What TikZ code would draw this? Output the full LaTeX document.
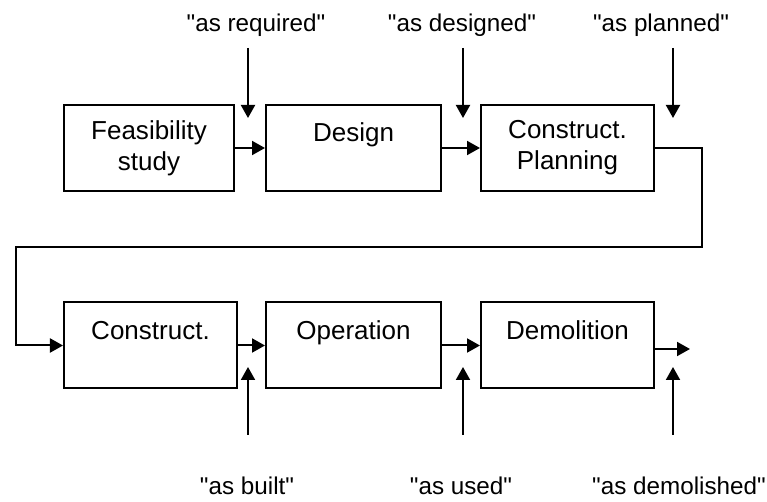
\documentclass[tikz,border=0pt]{standalone}
\usepackage{fontspec}
\setmainfont{Liberation Sans}
\usetikzlibrary{arrows.meta, positioning, calc}

% straight quotes round the document labels
\newcommand{\doclabel}[1]{\textquotedbl#1\textquotedbl}

\tikzset{
  stage/.style={draw, line width=0.4mm, minimum width=34.6mm, minimum height=17.2mm,
    align=center, inner sep=0pt, font=\fontsize{14.8pt}{17.6pt}\selectfont},
  tag/.style={anchor=base, inner sep=0pt, font=\fontsize{13.8pt}{17pt}\selectfont},
  flow/.style={-{Triangle[length=2.6mm, width=2.8mm]}, line width=0.4mm},
}

\begin{document}
\begin{tikzpicture}[x=0.2mm, y=-0.2mm]
    \useasboundingbox (0,0) rectangle (767,502);

    % Planning row
    \node[stage, minimum width=34mm] (feas) at (149,148) {Feasibility\\study};
    \node[stage, minimum width=35mm] (design) at (353.5,148) {Design\\~};
    \node[stage] (plan) at (567.5,148) {Construct.\\Planning};

    % Life-cycle row
    \node[stage] (constr) at (150.5,345.5) {Construct.\\~};
    \node[stage, minimum width=35mm] (oper) at (353.5,345.5) {Operation\\~};
    \node[stage] (demol) at (567.5,345.5) {Demolition\\~};

    % Flow between stages
    \draw[flow] (feas) -- (design);
    \draw[flow] (design) -- (plan);
    \draw[flow] (constr) -- (oper);
    \draw[flow] (oper) -- (demol);

    \coordinate (turn) at (702,247);
    \coordinate (back) at (16,345.5);
    \draw[flow] (plan.east) -| (turn) -| (back) -- (constr.west);

    \coordinate (out) at (690,349);
    \draw[flow] (demol.east |- out) -- (out);

    % Documents going in
    \node[tag] (req) at (256,32) {\doclabel{as required}};
    \node[tag] (des) at (462,32) {\doclabel{as designed}};
    \node[tag] (pla) at (661,32) {\doclabel{as planned}};
    \foreach \x/\n in {248/req, 463/des, 673/pla} {
        \coordinate (\n-a) at (\x,48);
        \coordinate (\n-b) at (\x,118);
        \draw[flow] (\n-a) -- (\n-b);
    }

    % Documents coming out
    \node[tag] (blt) at (247,495) {\doclabel{as built}};
    \node[tag] (usd) at (461,495) {\doclabel{as used}};
    \node[tag] (dem) at (679,495) {\doclabel{as demolished}};
    \foreach \x/\n in {248/blt, 463/usd, 673/dem} {
        \coordinate (\n-a) at (\x,435);
        \coordinate (\n-b) at (\x,367);
        \draw[flow] (\n-a) -- (\n-b);
    }
\end{tikzpicture}
\end{document}
